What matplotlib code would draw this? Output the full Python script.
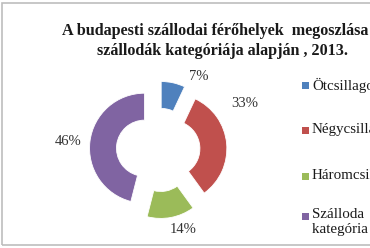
import matplotlib
matplotlib.use("Agg")
import matplotlib.pyplot as plt
from matplotlib.patches import Rectangle

# Adatok
categories = ["Ötcsillagos", "Négycsillagos", "Háromcsillagos", "Szálloda\nkategória nélkül"]
shares = [7, 33, 14, 46]
colors = ["#4F81BD", "#C0504D", "#9BBB59", "#8064A2"]
pct_labels = ["7%", "33%", "14%", "46%"]
title_lines = ["A budapesti szállodai férőhelyek  megoszlása a",
               "szállodák kategóriája alapján , 2013."]

serif = "Liberation Serif"

fig = plt.figure(figsize=(3.7, 2.48), dpi=100)
fig.patch.set_facecolor("white")

# keret (jobb oldala levágva)
fig.patches.append(Rectangle((0.005, 0.012), 1.2, 0.976, transform=fig.transFigure,
                             fill=False, edgecolor="#BDBDBD", lw=1.2))

# fánk diagram: 1 egység = 55 px
ax = fig.add_axes([0.130, -0.048, 0.595, 0.887])
ax.pie(shares, colors=colors, startangle=90, counterclock=False,
       explode=[0.25] * len(shares), radius=1.0,
       wedgeprops=dict(width=0.49, edgecolor="white", linewidth=0.6))
ax.set_xlim(-2, 2)
ax.set_ylim(-2, 2)
ax.set_aspect("equal")
ax.axis("off")

# címkék helye (elrendezés)
label_xy = [(0.73, 1.33), (1.58, 0.85), (0.45, -1.45), (-1.64, 0.15)]
for (x, y), t in zip(label_xy, pct_labels):
    ax.text(x, y, t, ha="center", va="center", fontsize=10.5, family=serif, color="#333333")

# cím
fig.text(62 / 370, 1 - 35 / 248, title_lines[0], ha="left", va="baseline",
         fontsize=11.6, fontweight="bold", family=serif, color="#1a1a1a")
fig.text(97 / 370, 1 - 55 / 248, title_lines[1], ha="left", va="baseline",
         fontsize=11.6, fontweight="bold", family=serif, color="#1a1a1a")

# jelmagyarázat
legend_y = [85, 130, 176, 216]
for yy, c, lab in zip(legend_y, colors, categories):
    fig.patches.append(Rectangle((302 / 370, 1 - (yy + 3.5) / 248), 7 / 370, 7 / 248,
                                 transform=fig.transFigure, facecolor=c, edgecolor="none"))
    two_lines = "\n" in lab
    txt_y = 1 - (yy - 7.5) / 248 if two_lines else 1 - yy / 248
    fig.text(312 / 370, txt_y, lab, ha="left", va="top" if two_lines else "center",
             fontsize=10.8, family=serif, color="#1a1a1a", linespacing=1.2)

fig.savefig("out.png", dpi=100)
